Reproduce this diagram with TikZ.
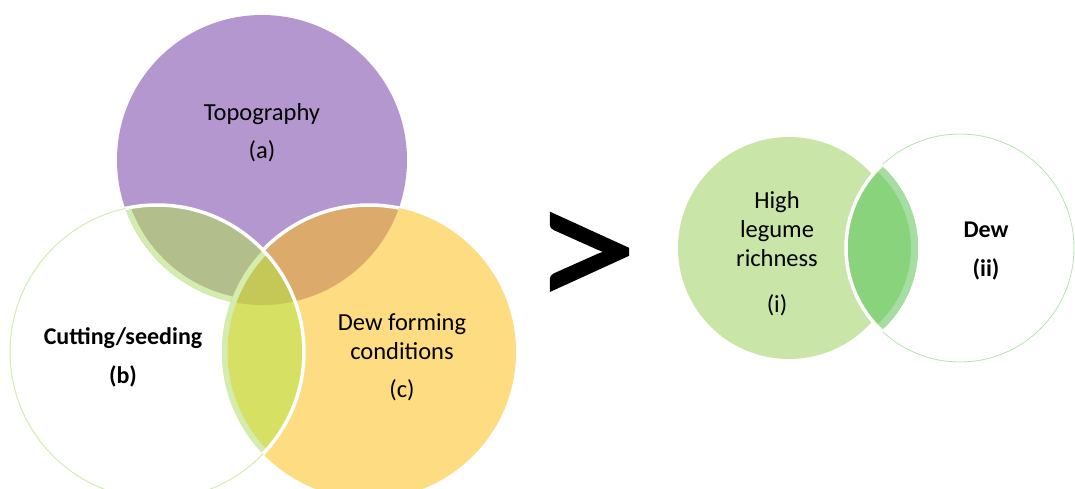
\documentclass[tikz,border=0pt]{standalone}
\usepackage{fontspec}
\setmainfont{Carlito}
\newfontfamily\gtfont[FakeBold=1.2]{Carlito}
\usepackage{tikz}
\usetikzlibrary{positioning}

\definecolor{topofill}{HTML}{B497CE}
\definecolor{dewfill}{HTML}{FDDC82}
\definecolor{cutring}{HTML}{D3EDB0}
\definecolor{abfill}{HTML}{B2BE8C}
\definecolor{acfill}{HTML}{DCAB6B}
\definecolor{bcfill}{HTML}{D6E164}
\definecolor{abcfill}{HTML}{C5C757}
\definecolor{legfill}{HTML}{C9E5A8}
\definecolor{lensfill}{HTML}{89D37D}
\definecolor{lensband}{HTML}{A5DDA2}
\definecolor{dewring}{HTML}{B5E3B0}

\begin{document}
\begin{tikzpicture}[
    x=1pt, y=-1pt,
    venn/.style={circle, inner sep=0pt, minimum size=#1},
    lbl/.style={font=\fontsize{24.5}{29}\selectfont, align=center, text=black},
    sep/.style={white, line width=3.5pt}
]

\useasboundingbox[fill=white] (0,0) rectangle (1075,489);

% Left diagram: three circles
\node (topo) [venn=290pt, fill=topofill] at (262,160) {};
\node (dewc) [venn=294pt, fill=dewfill] at (369,352) {};
\node (cut) [venn=294pt, fill=white, draw=cutring, line width=1pt] at (157,352) {};

% Overlaps
\begin{scope}
    \clip (topo.center) circle (145pt);
    \fill[abfill] (cut.center) circle (147pt);
    \fill[acfill] (dewc.center) circle (147pt);
\end{scope}
\begin{scope}
    \clip (cut.center) circle (147pt);
    \clip (topo.center) circle (145pt);
    \draw[cutring, line width=11pt] (topo.center) circle (145pt);
\end{scope}
\begin{scope}
    \clip (cut.center) circle (147pt);
    \fill[bcfill] (dewc.center) circle (147pt);
    \clip (topo.center) circle (145pt);
    \fill[abcfill] (dewc.center) circle (147pt);
\end{scope}
\begin{scope}
    \clip (cut.center) circle (147pt);
    \clip (dewc.center) circle (147pt);
    \draw[cutring, line width=11pt] (dewc.center) circle (147pt);
\end{scope}

% Separating lines
\begin{scope}
    \clip (topo.center) circle (145pt);
    \clip (0,0) rectangle (263,489);
    \draw[sep] (cut.center) circle (147pt);
\end{scope}
\begin{scope}
    \clip (topo.center) circle (145pt);
    \clip (263,0) rectangle (600,489);
    \draw[sep] (dewc.center) circle (147pt);
\end{scope}
\begin{scope}
    \clip (dewc.center) circle (147pt);
    \draw[sep] (cut.center) circle (147pt);
\end{scope}

% Labels
\node (topotxt) [lbl] at (262,133) {Topography\\[9pt](a)};
\node (cuttxt) [lbl, font=\fontsize{24}{29}\selectfont\bfseries] at (123,357) {Cutting/seeding\\[10pt](b)};
\node (dewtxt) [lbl] at (402,357) {Dew forming\\conditions\\[9pt](c)};

% Greater than
\node (gt) at (585,262) {\resizebox{105pt}{97pt}{\gtfont >}};

% Right diagram: two circles
\node (legume) [venn=222pt, fill=legfill] at (789,248) {};
\node (dew) [venn=228pt, fill=white, draw=dewring, line width=0.8pt] at (960,248) {};
\coordinate (lensc) at (807,248);

\begin{scope}
    \clip (dew.center) circle (114pt);
    \fill[lensfill] (lensc) circle (111pt);
    \clip (lensc) circle (111pt);
    \draw[lensband, line width=14pt] (lensc) circle (111pt);
\end{scope}
\begin{scope}
    \clip (lensc) circle (113pt);
    \draw[sep] (dew.center) circle (114pt);
\end{scope}

\node (legtxt) [lbl] at (777,254) {High\\legume\\richness\\[17pt](i)};
\node (dewtxt2) [lbl, font=\fontsize{24}{29}\selectfont\bfseries] at (986,251) {Dew\\[10pt](ii)};

\end{tikzpicture}
\end{document}
